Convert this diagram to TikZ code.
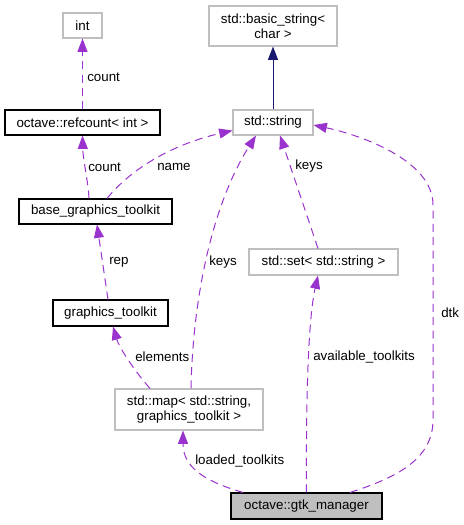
\documentclass[tikz,border=0pt]{standalone}
\usepackage{fontspec}
\setmainfont{Liberation Sans}
\usetikzlibrary{arrows.meta,calc}
\definecolor{edgepurple}{HTML}{9A32CD}
\definecolor{boxgray}{HTML}{BFBFBF}
\definecolor{navyline}{HTML}{191970}

\begin{document}
\begin{tikzpicture}[x=0.75pt, y=-0.75pt, >={Triangle[length=10pt, width=7.5pt]},
        cls/.style={draw=black, line width=0.8pt, fill=white, inner sep=0pt, align=center, font=\fontsize{10}{11.5}\selectfont},
        ext/.style={cls, draw=boxgray},
        focus/.style={cls, fill=boxgray},
        uses/.style={->, edgepurple, line width=0.75pt, dash pattern=on 6pt off 4pt},
        inherits/.style={->, navyline, line width=0.75pt},
        lbl/.style={anchor=west, inner sep=0pt, font=\fontsize{10}{11.5}\selectfont}]
            \useasboundingbox (0,0) rectangle (464,525);
            % classes
            \node[ext, minimum width=29.25pt, minimum height=18.75pt] (int) at (82.5,25.5) {int};
            \node[cls, minimum width=116.25pt, minimum height=18.75pt] (refc) at (82.5,122.5) {octave::refcount< int >};
            \node[cls, minimum width=114.75pt, minimum height=18.75pt] (base) at (95.5,211.5) {base\_graphics\_toolkit};
            \node[cls, minimum width=86.25pt, minimum height=19.5pt] (gtool) at (110.5,313) {graphics\_toolkit};
            \node[ext, minimum width=96pt, minimum height=30pt] (bstr) at (273,26) {std::basic\_string<\\char >};
            \node[ext, minimum width=60pt, minimum height=18.75pt] (str) at (273,122.5) {std::string};
            \node[ext, minimum width=111.75pt, minimum height=19.5pt] (sset) at (323.5,262) {std::set< std::string >};
            \node[ext, minimum width=111pt, minimum height=30.75pt] (smap) at (189,409.5) {std::map< std::string,\\graphics\_toolkit >};
            \node[focus, minimum width=113.25pt, minimum height=19.5pt] (gtk) at (306.5,506) {octave::gtk\_manager};
            % inheritance
            \draw[inherits] (str) -- (bstr);
            % members
            \draw[uses] (refc) -- (int);
            \node[lbl] (lcount1) at (87,77) {count};
            \draw[uses] ($(base.north)+(-6.5,0)$) .. controls (88,180) and (83,160) .. (refc.south);
            \node[lbl] (lcount2) at (88,167) {count};
            \draw[uses] ($(base.north)+(11.5,0)$) .. controls (130,170) and (170,145) .. ($(str.south west)+(0,-5)$);
            \node[lbl] (lname) at (157,167) {name};
            \draw[uses] ($(gtool.north)+(-2.5,0)$) -- ($(base.south)+(1.5,0)$);
            \node[lbl] (lrep) at (109,262) {rep};
            \draw[uses] ($(smap.north)+(-39,0)$) .. controls (138,375) and (120,350) .. ($(gtool.south)+(2.5,0)$);
            \node[lbl] (lelements) at (135,357) {elements};
            \draw[uses] ($(smap.north)+(2,0)$) .. controls (193,290) and (215,200) .. ($(str.south)+(-17,0)$);
            \node[lbl] (lkeys1) at (209,262) {keys};
            \draw[uses] ($(sset.north)+(-5.5,0)$) -- ($(str.south)+(7,0)$);
            \node[lbl] (lkeys2) at (295,166) {keys};
            \draw[uses] ($(gtk.north)+(-63.5,0)$) .. controls (200,480) and (183,465) .. ($(smap.south)+(-6,0)$);
            \node[lbl] (lloaded) at (195,461) {loaded\_toolkits};
            \draw[uses] (gtk.north) .. controls (306,400) and (308,320) .. ($(sset.south)+(-5.5,0)$);
            \node[lbl] (lavail) at (313,357) {available\_toolkits};
            \draw[uses] ($(gtk.north)+(43.5,0)$) .. controls (395,478) and (433,460) .. (433,420) -- (433,205)
                .. controls (433,160) and (360,135) .. ($(str.east)+(0,2.5)$);
            \node[lbl] (ldtk) at (441,313) {dtk};
        \end{tikzpicture}
\end{document}
